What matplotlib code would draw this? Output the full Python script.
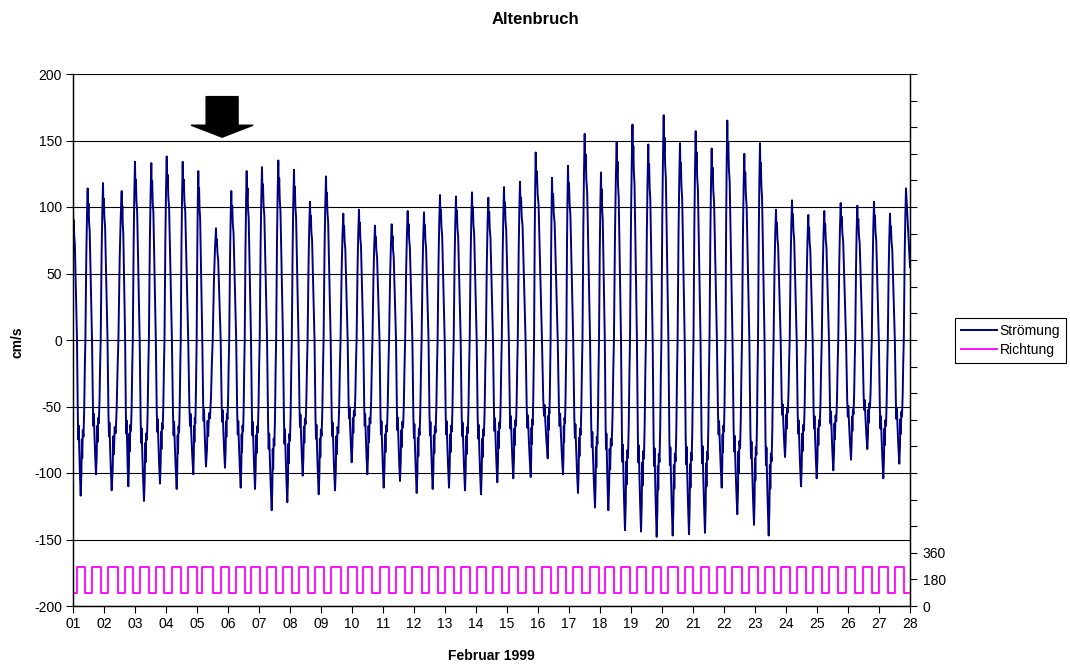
import matplotlib
matplotlib.use("Agg")
import matplotlib.pyplot as plt
from matplotlib.patches import FancyArrow

plt.rcParams['font.family'] = ['Liberation Sans', 'DejaVu Sans']

# ---- data (day of February 1999, cm/s) ----
# alternating extremes of the current (first = start value, last = end value)
ext_days = [1.00, 1.248, 1.474, 1.742, 1.968, 2.248, 2.571, 2.784, 3.000, 3.290,
            3.526, 3.806, 4.023, 4.345, 4.539, 4.881, 5.042, 5.290, 5.613, 5.903,
            6.106, 6.410, 6.603, 6.871, 7.097, 7.410, 7.623, 7.913, 8.129, 8.410,
            8.645, 8.926, 9.161, 9.452, 9.719, 9.990, 10.226, 10.494, 10.742, 11.023,
            11.281, 11.548, 11.797, 12.087, 12.323, 12.603, 12.839, 13.129, 13.355, 13.645,
            13.871, 14.161, 14.397, 14.687, 14.903, 15.203, 15.419, 15.765, 15.926, 16.313,
            16.452, 16.806, 16.968, 17.290, 17.506, 17.839, 18.032, 18.268, 18.539, 18.806,
            19.048, 19.323, 19.558, 19.829, 20.055, 20.345, 20.581, 20.871, 21.087, 21.387,
            21.603, 21.926, 22.106, 22.429, 22.655, 22.968, 23.161, 23.442, 23.677, 23.968,
            24.194, 24.484, 24.719, 24.990, 25.235, 25.526, 25.765, 26.097, 26.300, 26.623,
            26.839, 27.139, 27.355, 27.655, 27.871, 28.000]
ext_vals = [100, -117, 114, -101, 118, -113, 112, -110, 134, -121,
            133, -108, 138, -112, 134, -101, 127, -95, 84, -96,
            112, -111, 127, -112, 130, -128, 135, -122, 128, -102,
            104, -116, 123, -113, 95, -92, 98, -101, 86, -111,
            87, -106, 97, -115, 96, -112, 109, -111, 108, -113,
            111, -116, 107, -107, 115, -104, 119, -103, 141, -89,
            122, -101, 131, -115, 155, -126, 126, -128, 149, -143,
            162, -144, 147, -148, 169, -147, 148, -146, 157, -145,
            144, -111, 165, -131, 140, -139, 148, -147, 98, -88,
            105, -110, 94, -104, 97, -98, 103, -90, 101, -82,
            104, -104, 95, -93, 114, 55]

# direction levels (degrees) for flood and ebb
dir_flood = 88
dir_ebb = 266

day_labels = ["%02d" % d for d in range(1, 29)]
left_ticks = list(range(-200, 201, 50))
right_ticks = list(range(0, 3601, 180))
right_labels = ["0", "180", "360"]

# ---- tidal curve shape between extremes (fraction of interval, weight of start, weight of end)
fall_shape = [(0.05, 0.84, 0.0), (0.10, 0.90, 0.0), (0.16, 0.78, 0.0), (0.24, 0.72, 0.0),
              (0.36, 0.42, 0.0), (0.52, 0.0, 0.0), (0.63, 0.0, 0.50), (0.69, 0.0, 0.64),
              (0.74, 0.0, 0.55), (0.81, 0.0, 0.70), (0.90, 0.0, 0.86)]
rise_shape = [(0.10, 0.86, 0.0), (0.16, 0.64, 0.0), (0.22, 0.76, 0.0), (0.30, 0.58, 0.0),
              (0.40, 0.62, 0.0), (0.50, 0.45, 0.0), (0.59, 0.18, 0.0), (0.67, 0.0, 0.0),
              (0.80, 0.0, 0.55), (0.90, 0.0, 0.82)]

t_cur, v_cur = [], []
cross = []  # (time, sign after crossing)
n = len(ext_days)
for i in range(n - 1):
    t0, v0, t1, v1 = ext_days[i], ext_vals[i], ext_days[i + 1], ext_vals[i + 1]
    t_cur.append(t0); v_cur.append(v0)
    if i == n - 2:
        continue
    d = t1 - t0
    shape = fall_shape if v0 > 0 else rise_shape
    for f, a, b in shape:
        t_cur.append(t0 + f * d); v_cur.append(a * v0 + b * v1)
    zf = 0.52 if v0 > 0 else 0.67
    cross.append((t0 + zf * d, -1 if v0 > 0 else 1))
t_cur.append(ext_days[-1]); v_cur.append(ext_vals[-1])

# direction step series following the current sign
t_dir, v_dir = [ext_days[0]], [dir_flood]
level = dir_flood
for tc, sgn in cross:
    t_dir.append(tc); v_dir.append(level)
    level = dir_ebb if sgn < 0 else dir_flood
    t_dir.append(tc); v_dir.append(level)
t_dir.append(ext_days[-1]); v_dir.append(level)

# ---- figure ----
fig = plt.figure(figsize=(10.70, 6.64), dpi=100)
ax = fig.add_axes([73 / 1070, 58 / 664, 837 / 1070, 532 / 664])
ax2 = ax.twinx()

ax.set_xlim(1, 28)
ax.set_ylim(-200, 200)
ax2.set_ylim(0, 3600)

ax.set_yticks(left_ticks)
ax.set_yticklabels([str(v) for v in left_ticks])
ax.set_xticks(range(1, 29))
ax.set_xticklabels(day_labels)
ax2.set_yticks(right_ticks)
ax2.set_yticklabels(right_labels + [""] * (len(right_ticks) - 3))

for a in (ax, ax2):
    a.tick_params(axis='both', direction='out', length=5, width=0.8, labelsize=10, color='black')
ax.tick_params(axis='x', pad=3)
ax.tick_params(axis='y', pad=3)
ax2.tick_params(axis='y', pad=4)

ax.grid(axis='y', color='black', linewidth=0.8)
ax.set_axisbelow(True)
for s in ('top',):
    ax.spines[s].set_visible(False)
    ax2.spines[s].set_visible(False)
for a in (ax, ax2):
    for s in ('left', 'bottom', 'right'):
        a.spines[s].set_linewidth(0.9)
        a.spines[s].set_color('black')

l1, = ax.plot(t_cur, v_cur, color='#000080', linewidth=1.4, label='Strömung')
l2, = ax2.plot(t_dir, v_dir, color='#FF00FF', linewidth=1.3, label='Richtung')

ax.add_patch(FancyArrow(5.81, 183, 0, -30.5, width=1.03, head_width=2.0, head_length=9,
                        length_includes_head=True, color='black', zorder=5))

fig.text(535 / 1070, 1 - 19 / 664, "Altenbruch", ha='center', va='center',
         fontsize=12, fontweight='bold')
fig.text(17 / 1070, 1 - 342 / 664, "cm/s", ha='center', va='center', rotation=90,
         fontsize=10, fontweight='bold')
fig.text(491 / 1070, 1 - 656 / 664, "Februar 1999", ha='center', va='center',
         fontsize=10, fontweight='bold')

leg = fig.legend(handles=[l1, l2], loc='upper left',
                 bbox_to_anchor=(955 / 1070, 1 - 318 / 664), fontsize=10,
                 frameon=True, fancybox=False, edgecolor='black', framealpha=1,
                 handlelength=2.6, handletextpad=0.2, borderpad=0.4, labelspacing=0.4,
                 borderaxespad=0)
leg.get_frame().set_linewidth(0.8)

fig.savefig("out.png", dpi=100)
